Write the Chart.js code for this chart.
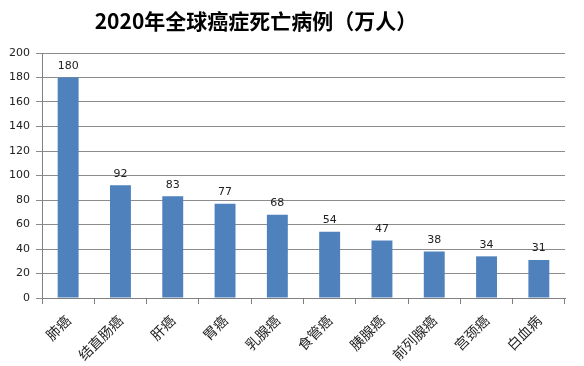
<!DOCTYPE html>
<html lang="zh">
<head>
<meta charset="UTF-8" />
<title>2020年全球癌症死亡病例</title>
<script src="https://cdn.jsdelivr.net/npm/chart.js"></script>
<style>
body { margin: 0; background: #fff; }
.chart-box { width: 584px; height: 366px; }
</style>
</head>
<body>
<div class="chart-box">
<canvas id="cancerChart"></canvas>
</div>
<script>
// data
const cancerTypes = ['肺癌', '结直肠癌', '肝癌', '胃癌', '乳腺癌', '食管癌', '胰腺癌', '前列腺癌', '宫颈癌', '白血病'];
const deaths = [180, 92, 83, 77, 68, 54, 47, 38, 34, 31];
const yTicks = [0, 20, 40, 60, 80, 100, 120, 140, 160, 180, 200];
const chartTitle = '2020年全球癌症死亡病例（万人）';

// value labels above each bar
const barValues = {
    id: 'barValues',
    afterDatasetsDraw(chart) {
        const ctx = chart.ctx;
        const meta = chart.getDatasetMeta(0);
        ctx.save();
        ctx.font = '11px "DejaVu Sans", sans-serif';
        ctx.fillStyle = '#222';
        ctx.textAlign = 'center';
        ctx.textBaseline = 'bottom';
        meta.data.forEach((bar, i) => {
            ctx.fillText(deaths[i], bar.x, bar.y - 6);
        });
        ctx.restore();
    }
};

// title sits a bit left of centre in the original
const offsetTitle = {
    id: 'offsetTitle',
    afterDraw(chart) {
        const ctx = chart.ctx;
        ctx.save();
        ctx.font = 'bold 21px "Noto Sans CJK SC", sans-serif';
        ctx.fillStyle = '#000';
        ctx.textAlign = 'center';
        ctx.textBaseline = 'middle';
        ctx.fillText(chartTitle, 256, 21);
        ctx.restore();
    }
};

new Chart(document.getElementById('cancerChart'), {
    type: 'bar',
    data: {
        labels: cancerTypes,
        datasets: [{
            data: deaths,
            backgroundColor: '#4F81BD',
            categoryPercentage: 0.8,
            barPercentage: 0.5
        }]
    },
    options: {
        responsive: true,
        maintainAspectRatio: false,
        animation: false,
        layout: { padding: { left: 0, right: 19, top: 53, bottom: 0 } },
        plugins: {
            legend: { display: false },
            tooltip: { enabled: false },
            title: { display: false }
        },
        scales: {
            x: {
                grid: { drawOnChartArea: false, drawTicks: true, tickLength: 6, color: '#808080' },
                border: { color: '#808080' },
                ticks: {
                    minRotation: 45,
                    maxRotation: 45,
                    padding: 8,
                    color: '#222',
                    font: { family: '"Noto Sans CJK SC", sans-serif', size: 14 }
                },
                afterFit(scale) { scale.height = 68; }
            },
            y: {
                min: 0,
                max: 200,
                afterBuildTicks(scale) { scale.ticks = yTicks.map(v => ({ value: v })); },
                grid: { color: '#8c8c8c', tickLength: 6 },
                border: { color: '#808080' },
                ticks: {
                    padding: 6,
                    color: '#222',
                    font: { family: '"DejaVu Sans", sans-serif', size: 11 }
                },
                afterFit(scale) { scale.width = 42; }
            }
        }
    },
    plugins: [barValues, offsetTitle]
});
</script>
</body>
</html>
